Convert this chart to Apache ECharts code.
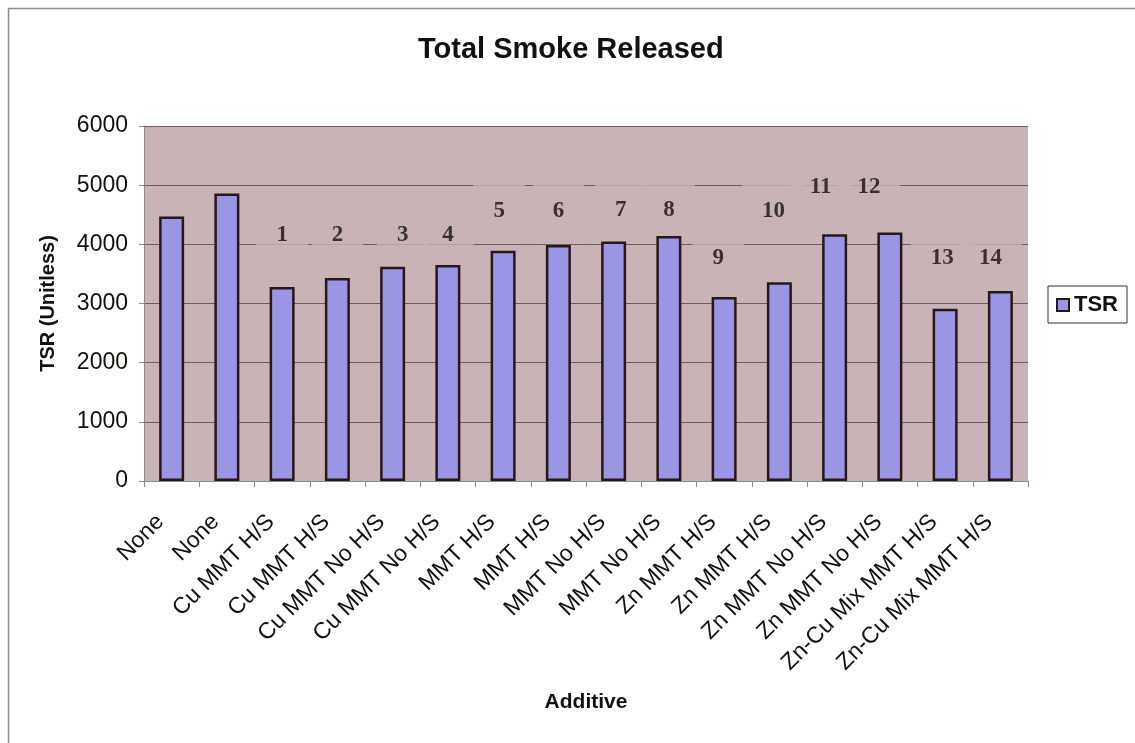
<!DOCTYPE html>
<html>
<head>
<meta charset="utf-8">
<title>Total Smoke Released</title>
<script src="https://cdn.jsdelivr.net/npm/echarts@6/dist/echarts.min.js"></script>
<style>
  html, body { margin: 0; padding: 0; background: #ffffff; }
  #chart { width: 1135px; height: 743px; }
</style>
</head>
<body>
<div id="chart"></div>
<script>
// Additive for each test, in plotted order
const additives = [
  'None', 'None',
  'Cu MMT H/S', 'Cu MMT H/S',
  'Cu MMT No H/S', 'Cu MMT No H/S',
  'MMT H/S', 'MMT H/S',
  'MMT No H/S', 'MMT No H/S',
  'Zn MMT H/S', 'Zn MMT H/S',
  'Zn MMT No H/S', 'Zn MMT No H/S',
  'Zn-Cu Mix MMT H/S', 'Zn-Cu Mix MMT H/S'
];

// Total smoke released (unitless)
const tsr = [4470, 4860, 3280, 3430, 3620, 3650, 3890, 3990,
             4050, 4140, 3110, 3360, 4170, 4200, 2910, 3210];

// Run numbers written over the bars (the two untreated runs carry none)
const runNumbers = ['', '', '1', '2', '3', '4', '5', '6',
                    '7', '8', '9', '10', '11', '12', '13', '14'];

// Value axis ticks
const yTicks = [0, 1000, 2000, 3000, 4000, 5000, 6000];

// ---- layout of the run-number notes (TSR level and sideways nudge) ----
const noteLevel = [null, null, 4155, 4155, 4155, 4155, 4560, 4560,
                   4578, 4578, 3767, 4566, 4971, 4971, 3767, 3767];
const noteNudge = [0, 0, 0, 0, 10, 0, -4, 0,
                   7, 0, -6, -6, -14, -21, -3, -10];

const plotBg = '#c8b4b6';
const barFill = '#9a95e4';
const barEdge = '#2a1718';
const sansFont = '"Liberation Sans", Arial, Helvetica, sans-serif';
const serifFont = '"Liberation Serif", "Times New Roman", serif';

const noteData = [];
runNumbers.forEach(function (txt, i) {
  if (!txt) return;
  noteData.push({
    value: [i, noteLevel[i]],
    label: { formatter: txt, offset: [noteNudge[i], 0] }
  });
});

const chart = echarts.init(document.getElementById('chart'), null, { renderer: 'canvas' });

chart.setOption({
  animation: false,
  backgroundColor: '#ffffff',
  textStyle: { fontFamily: sansFont },
  title: {
    text: 'Total Smoke Released',
    left: 413,
    top: 30,
    textStyle: { fontFamily: sansFont, fontSize: 29, fontWeight: 'bold', color: '#111111' }
  },
  legend: {
    data: ['TSR'],
    left: 1048,
    top: 286,
    orient: 'vertical',
    backgroundColor: '#ffffff',
    borderColor: '#333333',
    borderWidth: 1,
    borderRadius: 0,
    padding: [8, 9, 7, 8],
    itemWidth: 12,
    itemHeight: 12,
    itemGap: 4,
    icon: 'rect',
    itemStyle: { color: barFill, borderColor: barEdge, borderWidth: 2 },
    textStyle: { fontFamily: sansFont, fontSize: 22, fontWeight: 'bold', color: '#111111' }
  },
  grid: {
    left: 144,
    right: 107,
    top: 126,
    bottom: 262,
    show: true,
    backgroundColor: plotBg,
    borderWidth: 0,
    containLabel: false
  },
  xAxis: {
    type: 'category',
    data: additives,
    boundaryGap: true,
    name: 'Additive',
    nameLocation: 'middle',
    nameGap: 211,
    nameTextStyle: { fontFamily: sansFont, fontSize: 21, fontWeight: 'bold', color: '#111111' },
    axisLine: { show: true, lineStyle: { color: '#8a8a8a', width: 1 } },
    axisTick: { show: true, alignWithLabel: false, length: 6, lineStyle: { color: '#8a8a8a' } },
    axisLabel: {
      interval: 0,
      rotate: 45,
      margin: 26,
      padding: [0, 16, 0, 0],
      fontFamily: sansFont,
      fontSize: 23,
      color: '#151010'
    },
    splitLine: { show: false }
  },
  yAxis: {
    type: 'value',
    min: yTicks[0],
    max: yTicks[yTicks.length - 1],
    interval: yTicks[1] - yTicks[0],
    name: 'TSR (Unitless)',
    nameLocation: 'middle',
    nameGap: 86,
    nameRotate: 90,
    nameTextStyle: { fontFamily: sansFont, fontSize: 20, fontWeight: 'bold', color: '#111111' },
    axisLine: { show: true, lineStyle: { color: '#8a8a8a', width: 1 } },
    axisTick: { show: true, length: 5, lineStyle: { color: '#8a8a8a' } },
    axisLabel: {
      margin: 16,
      fontFamily: sansFont,
      fontSize: 23,
      color: '#151010',
      formatter: function (v) { return String(v); }
    },
    splitLine: { show: true, lineStyle: { color: '#6e5c5e', width: 1 } }
  },
  series: [
    {
      name: 'TSR',
      type: 'bar',
      data: tsr,
      barWidth: 25,
      itemStyle: { color: barFill, borderColor: barEdge, borderWidth: 2.5 },
      z: 4
    },
    {
      name: 'Run',
      type: 'scatter',
      data: noteData,
      symbolSize: 0,
      silent: true,
      z: 3,
      label: {
        show: true,
        position: 'inside',
        fontFamily: serifFont,
        fontSize: 23,
        fontWeight: 'bold',
        color: '#141010',
        backgroundColor: plotBg,
        padding: [26, 20, 12, 20]
      }
    }
  ],
  graphic: [
    {
      type: 'rect',
      left: 6,
      top: 6,
      shape: { width: 1200, height: 800 },
      style: { fill: 'none', stroke: '#8c8c8c', lineWidth: 1.5 },
      silent: true,
      z: -1
    }
  ]
});
</script>
</body>
</html>
